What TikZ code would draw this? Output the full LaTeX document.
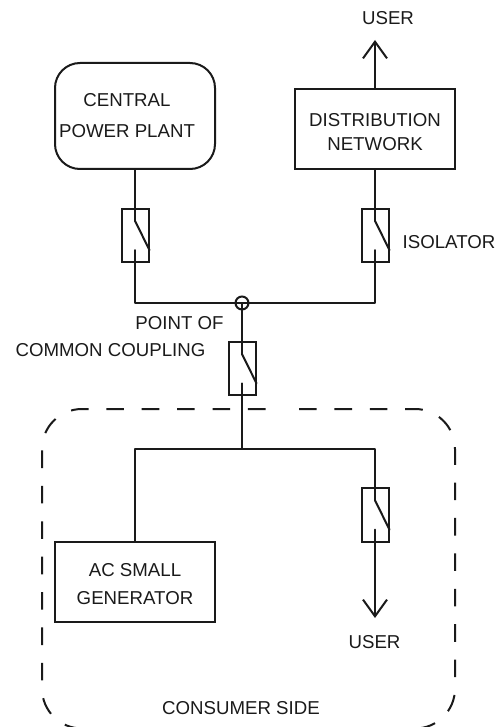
\documentclass[tikz,border=0pt]{standalone}
\usepackage{fontspec}
\setmainfont{Liberation Sans}
\usetikzlibrary{arrows.meta}
\definecolor{ink}{HTML}{1A1A1A}
\tikzset{
  wire/.style={draw=ink,line width=1.5pt,line cap=round,line join=round},
  box/.style={draw=ink,line width=1.5pt,inner sep=0pt,align=center,text=ink,font=\fontsize{14}{20.25}\selectfont},
  switchbox/.style={draw=ink,line width=1.5pt,inner sep=0pt,minimum width=20.25pt,minimum height=40pt},
  lbl/.style={inner sep=0pt,text=ink,font=\fontsize{14}{20.25}\selectfont,align=center},
  userarrow/.style={wire,-{Straight Barb[length=12.5pt,width=18pt,line width=1.5pt]}},
  boundary/.style={draw=ink,line width=1.5pt,dash pattern=on 13.2pt off 13.35pt,dash phase=13.8pt,rounded corners=30pt}
}
\begin{document}
\begin{tikzpicture}[x=.75pt,y=-.75pt]
\useasboundingbox (0,0) rectangle (502,727);
% nodes
\node[box,rounded corners=18.75pt,minimum width=120pt,minimum height=79.5pt] (plant) at (135,116) {CENTRAL\hspace*{12pt}\\[3pt]POWER PLANT\hspace*{12pt}\rule[-1.5pt]{0pt}{1pt}};
\node[box,minimum width=120pt,minimum height=60pt] (net) at (375,129) {\rule{0pt}{14.5pt}DISTRIBUTION\\[-2.25pt]NETWORK};
\node[box,minimum width=120pt,minimum height=60pt] (gen) at (135,582) {\rule{0pt}{13pt}AC SMALL\\[.75pt]GENERATOR};
\node[switchbox] (s1) at (135,235.5) {};
\node[switchbox] (s2) at (375,235.5) {};
\node[switchbox] (s3) at (242,368.7) {};
\node[switchbox] (s4) at (375,515) {};
\node[draw=ink,line width=1.5pt,circle,inner sep=0pt,minimum size=9.75pt] (pcc) at (242,303) {};
% named free ends
\coordinate (userup) at (375,40);
\coordinate (userdown) at (375,618);
\coordinate (j1) at (135,303);
\coordinate (j2) at (375,303);
\coordinate (j3) at (242,448.5);
\coordinate (j4) at (135,448.5);
\coordinate (j5) at (375,448.5);
% connectors
\draw[userarrow] (net.north) -- (userup);
\draw[wire] (plant.south) -- ([yshift=-9.75pt]s1.north);
\draw[wire] (net.south) -- ([yshift=-9.75pt]s2.north);
\draw[wire] ([yshift=9.75pt]s1.south) -- (j1) -- (j2) -- ([yshift=9.75pt]s2.south);
\draw[wire] (pcc.center) -- ([yshift=-9.75pt]s3.north);
\draw[wire] ([yshift=9.75pt]s3.south) -- (j3);
\draw[wire] (gen.north) -- (j4) -- (j5) -- ([yshift=-9.75pt]s4.north);
\draw[userarrow] ([yshift=9.75pt]s4.south) -- (userdown);
% switch blades
\foreach \s in {s1,s2,s3,s4}
  \draw[wire] ([yshift=-9.75pt]\s.north) -- ([yshift=9.75pt]\s.south east);
% boundary
\draw[boundary] (242,409) -- (455,409) -- (455,728.5) -- (42,728.5) -- (42,409) -- cycle;
% labels
\node[lbl] (ltop) at (388,18) {USER};
\node[lbl] (liso) at (449,242) {ISOLATOR};
\node[lbl] (lpoc) at (179.5,323) {POINT OF};
\node[lbl] (lcc) at (110.5,350) {COMMON COUPLING};
\node[lbl] (lusr) at (374.5,642) {USER};
\node[lbl] (lcons) at (241,708) {CONSUMER SIDE};
\end{tikzpicture}
\end{document}
